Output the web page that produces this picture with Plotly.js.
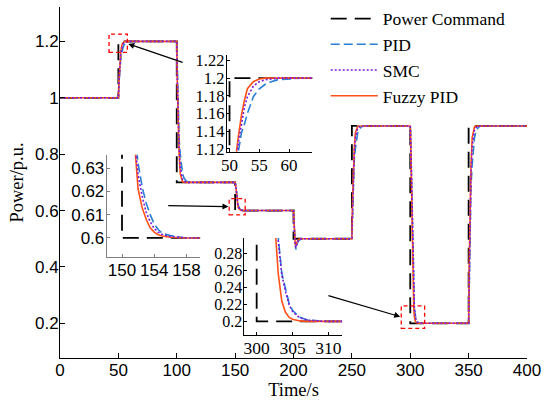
<!DOCTYPE html>
<html><head><meta charset="utf-8">
<script src="https://cdn.plot.ly/plotly-3.0.1.min.js"></script>
<style>html,body{margin:0;padding:0;background:#fff}</style>
</head><body><div id="chart" style="width:550px;height:400px"></div>
<script>
// ---- data ----
const time = [0,
 50,50.5,51,51.5,52,52.5,53,54,55,56,57,58,60,62,64,
 100,100.5,101,101.5,102,103,104,105,106,108,110,
 150,150.5,151,151.5,152,152.5,153,153.5,154,154.5,155,156,157,158,160,
 200,200.5,201,201.5,202,203,204,206,208,
 250,250.5,251,251.5,252,253,254,255,256,258,260,
 300,300.5,301,301.5,302,302.5,303,303.5,304,304.5,305,306,307,308,309,310,312,
 350,350.5,351,351.5,352,353,354,355,356,358,360,
 400];
const commandTime = [0,50,50,100,100,150,150,200,200,250,250,300,300,350,350,400];
const commandPower = [1,1,1.2,1.2,0.7,0.7,0.6,0.6,0.5,0.5,0.9,0.9,0.2,0.2,0.9,0.9];
const fuzzyPower = [1.0,
 1.0,1.06,1.108,1.135,1.158,1.175,1.188,1.196,1.199,1.2,1.2,1.2,1.2,1.2,1.2,
 1.2,1.05,0.93,0.8625,0.805,0.73,0.71,0.7025,0.7,0.7,0.7,
 0.7,0.688,0.665,0.640,0.621,0.613,0.608,0.6043,0.6025,0.6014,0.6008,0.6003,0.6,0.6,0.6,
 0.6,0.55,0.50,0.482,0.478,0.49,0.497,0.5,0.5,
 0.5,0.62,0.716,0.77,0.816,0.876,0.892,0.898,0.9,0.9,0.9,
 0.9,0.82,0.70,0.56,0.42,0.32,0.257,0.224,0.211,0.205,0.2025,0.2005,0.2,0.2,0.2,0.2,0.2,
 0.2,0.41,0.578,0.6725,0.753,0.858,0.886,0.8965,0.9,0.9,0.9,
 0.9];
const smcPower = [1.0,
 1.0,1.055,1.10,1.128,1.150,1.167,1.179,1.191,1.196,1.198,1.199,1.2,1.2,1.2,1.2,
 1.2,1.0625,0.95,0.88,0.825,0.7525,0.7225,0.71,0.705,0.7,0.7,
 0.7,0.689,0.668,0.644,0.627,0.618,0.611,0.607,0.604,0.6025,0.6015,0.6006,0.6002,0.6,0.6,
 0.6,0.55,0.50,0.475,0.468,0.484,0.494,0.499,0.5,
 0.5,0.61,0.70,0.756,0.80,0.858,0.882,0.892,0.896,0.9,0.9,
 0.9,0.83,0.715,0.585,0.455,0.355,0.296,0.255,0.236,0.220,0.2115,0.2042,0.2015,0.2006,0.2002,0.2,0.2,
 0.2,0.3925,0.55,0.648,0.725,0.8265,0.8685,0.886,0.893,0.9,0.9,
 0.9];
const pidPower = [1.0,
 1.0,1.05,1.095,1.118,1.138,1.148,1.160,1.179,1.188,1.193,1.196,1.198,1.199,1.2,1.2,
 1.2,1.075,0.9625,0.905,0.855,0.80,0.7525,0.73,0.7175,0.705,0.7,
 0.7,0.69,0.67,0.648,0.632,0.622,0.615,0.610,0.606,0.6036,0.602,0.601,0.6005,0.6,0.6,
 0.6,0.55,0.50,0.472,0.462,0.48,0.492,0.498,0.5,
 0.5,0.60,0.69,0.736,0.776,0.82,0.858,0.876,0.886,0.896,0.9,
 0.9,0.83,0.72,0.59,0.46,0.36,0.30,0.257,0.238,0.222,0.213,0.2047,0.2018,0.2008,0.2003,0.2,0.2,
 0.2,0.375,0.5325,0.613,0.683,0.76,0.8265,0.858,0.8755,0.893,0.9,
 0.9];
const seriesNames = ['Power Command','PID','SMC','Fuzzy PID'];
const xTicks = [0,50,100,150,200,250,300,350,400];
const yTicks = [0.2,0.4,0.6,0.8,1,1.2];
const yTickText = ['0.2','0.4','0.6','0.8','1','1.2'];
const inset1XTicks = [50,55,60];
const inset1YTicks = [1.12,1.14,1.16,1.18,1.2,1.22];
const inset1YText = ['1.12','1.14','1.16','1.18','1.2','1.22'];
const inset2XTicks = [150,154,158];
const inset2YTicks = [0.6,0.61,0.62,0.63];
const inset2YText = ['0.6','0.61','0.62','0.63'];
const inset3XTicks = [300,305,310];
const inset3YTicks = [0.2,0.22,0.24,0.26,0.28];
const inset3YText = ['0.2','0.22','0.24','0.26','0.28'];

// ---- styling ----
const SERIF = 'Liberation Serif, Times New Roman, serif';
const SANS = 'Liberation Sans, Arial, sans-serif';
const C_CMD = '#000000', C_PID = '#2a7fd4', C_SMC = '#7d1ad8', C_FUZ = '#ff5018';

function group(xa, ya, main) {
  const base = {type:'scatter', mode:'lines', xaxis:xa, yaxis:ya, hoverinfo:'skip', showlegend:main};
  return [
    Object.assign({}, base, {name:seriesNames[0], x:commandTime, y:commandPower, legendrank:1,
      line:{color:C_CMD, width:1.8, dash:'16px,8px'}}),
    Object.assign({}, base, {name:seriesNames[1], x:time, y:pidPower, legendrank:2,
      line:{color:C_PID, width:1.6, dash:'9px,4px'}}),
    Object.assign({}, base, {name:seriesNames[3], x:time, y:fuzzyPower, legendrank:4,
      line:{color:C_FUZ, width:1.6}}),
    Object.assign({}, base, {name:seriesNames[2], x:time, y:smcPower, legendrank:3,
      line:{color:C_SMC, width:1.6, dash:'2px,2px'}})
  ];
}
const data = [].concat(group('x','y',true), group('x2','y2',false), group('x3','y3',false), group('x4','y4',false));

function ax(extra) {
  return Object.assign({showline:true, linecolor:'#000', linewidth:1, ticks:'inside', ticklen:4,
    tickcolor:'#000', showgrid:false, zeroline:false, fixedrange:true, mirror:false}, extra);
}
const layout = {
  width:550, height:400,
  margin:{l:60, r:23, t:7, b:42, autoexpand:false},
  paper_bgcolor:'#ffffff', plot_bgcolor:'rgba(0,0,0,0)',
  showlegend:true,
  legend:{x:0.569, y:1.018, xanchor:'left', yanchor:'top', bgcolor:'rgba(0,0,0,0)',
    font:{family:SERIF, size:17.5, color:'#000'}, itemwidth:47, tracegroupgap:0},
  xaxis:ax({domain:[0,1], range:[0,400], tickvals:xTicks, ticklen:5, ticklabelstandoff:-3,
    tickfont:{family:SANS, size:17, color:'#000'},
    title:{text:'Time/s', font:{family:SERIF, size:18.5, color:'#000'}, standoff:0}}),
  yaxis:ax({domain:[0,1], range:[0.077,1.322], tickvals:yTicks, ticktext:yTickText, ticklen:5, ticklabelstandoff:-3,
    tickfont:{family:SANS, size:17, color:'#000'},
    title:{text:'Power/p.u.', font:{family:SERIF, size:18.5, color:'#000'}, standoff:6}}),
  xaxis2:ax({domain:[0.357,0.540], anchor:'y2', range:[49.53,63.87], tickvals:inset1XTicks, ticklabelstandoff:-2,
    tickfont:{family:SERIF, size:17, color:'#000'}, ticklen:3}),
  yaxis2:ax({domain:[0.588,0.863], anchor:'x2', range:[1.117,1.226], tickvals:inset1YTicks, ticktext:inset1YText, ticklabelstandoff:-2,
    tickfont:{family:SERIF, size:16.5, color:'#000'}, ticklen:3}),
  xaxis3:ax({domain:[0.100,0.300], anchor:'y3', range:[148.1,159.7], tickvals:inset2XTicks, ticklabelstandoff:-2,
    linecolor:'#808080', tickcolor:'#808080', tickfont:{family:SANS, size:17, color:'#000'}, ticklen:3}),
  yaxis3:ax({domain:[0.289,0.579], anchor:'x3', range:[0.592,0.6357], tickvals:inset2YTicks, ticktext:inset2YText, ticklabelstandoff:-2,
    linecolor:'#808080', tickcolor:'#808080', tickfont:{family:SANS, size:17, color:'#000'}, ticklen:3}),
  xaxis4:ax({domain:[0.395,0.604], anchor:'y4', range:[298.3,311.9], tickvals:inset3XTicks, ticklabelstandoff:-3,
    tickfont:{family:SERIF, size:17.5, color:'#000'}, ticklen:3}),
  yaxis4:ax({domain:[0.066,0.3416], anchor:'x4', range:[0.184,0.2986], tickvals:inset3YTicks, ticktext:inset3YText, ticklabelstandoff:-2,
    tickfont:{family:SERIF, size:16, color:'#000'}, ticklen:3}),
  shapes:[
    {type:'rect', xref:'x', yref:'y', x0:42.0, x1:57.7, y0:1.161, y1:1.226, line:{color:'#ff0000', width:1.3, dash:'4px,3px'}},
    {type:'rect', xref:'x', yref:'y', x0:144.9, x1:158.6, y0:0.585, y1:0.642, line:{color:'#ff0000', width:1.3, dash:'4px,3px'}},
    {type:'rect', xref:'x', yref:'y', x0:292.3, x1:312.3, y0:0.182, y1:0.262, line:{color:'#ff0000', width:1.3, dash:'4px,3px'}}
  ],
  annotations:[
    {xref:'x', yref:'y', axref:'x', ayref:'y', x:58.5, y:1.191, ax:106.3, ay:1.124, text:'', showarrow:true,
      arrowhead:2, arrowsize:1, arrowwidth:1.2, arrowcolor:'#000', standoff:0},
    {xref:'x', yref:'y', axref:'x', ayref:'y', x:144.3, y:0.614, ax:91.4, ay:0.6176, text:'', showarrow:true,
      arrowhead:2, arrowsize:1, arrowwidth:1.2, arrowcolor:'#000', standoff:0},
    {xref:'x', yref:'y', axref:'x', ayref:'y', x:291.4, y:0.2237, ax:228.6, ay:0.30, text:'', showarrow:true,
      arrowhead:2, arrowsize:1, arrowwidth:1.2, arrowcolor:'#000', standoff:0}
  ]
};
Plotly.newPlot('chart', data, layout, {staticPlot:true, displayModeBar:false});
</script></body></html>
